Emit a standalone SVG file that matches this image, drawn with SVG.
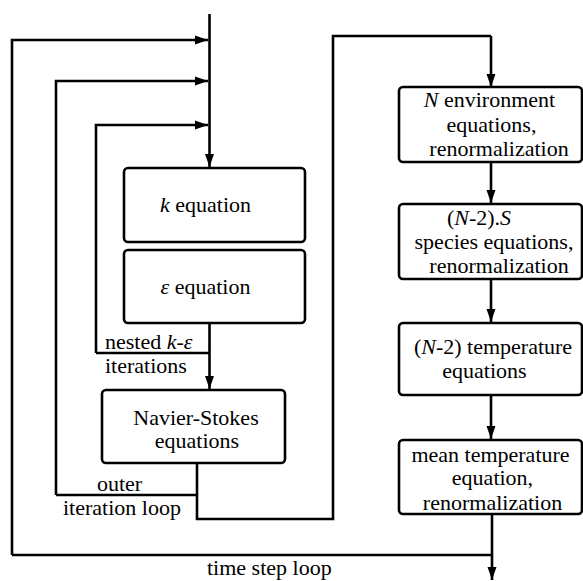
<svg xmlns="http://www.w3.org/2000/svg" width="583" height="581" viewBox="0 0 583 581" font-family="'Liberation Serif', serif" font-size="22">
<defs>
<marker id="arr" markerUnits="userSpaceOnUse" markerWidth="14" markerHeight="10" refX="13" refY="5" orient="auto">
<path d="M0,0.5 L13,5 L0,9.5 Z" fill="#000"/>
</marker>
<style>
.box{fill:#fff;stroke:#000;stroke-width:2.6}
.c{fill:none;stroke:#000;stroke-width:2.6}
.a{fill:none;stroke:#000;stroke-width:2.6;marker-end:url(#arr)}
.t{font-family:'Liberation Serif',serif;font-size:22px;fill:#000}
.m{text-anchor:middle}
.i{font-style:italic}
</style>
</defs>
<rect width="583" height="581" fill="#fff"/>
<g id="connectors">
<path class="a" d="M209.5,14 V167"/>
<path class="a" d="M12,555 V40 H208"/>
<path class="c" d="M492,555 H12"/>
<path class="a" d="M492,514 V580"/>
<path class="a" d="M56,495 V81 H208"/>
<path class="c" d="M197,495 H56"/>
<path class="c" d="M197,463 V519 H333 V36 H491"/>
<path class="a" d="M491,36 V87"/>
<path class="a" d="M96,353 V125 H208"/>
<path class="c" d="M209.5,353 H96"/>
<path class="a" d="M209.5,323 V389"/>
<path class="a" d="M491,162 V203"/>
<path class="a" d="M491,279 V322"/>
<path class="a" d="M491,395 V439"/>
</g>
<g id="k-eq">
<rect class="box" x="124" y="168" width="181" height="74" rx="4"/>
<text class="t m" x="205.5" y="212"><tspan class="i">k</tspan> equation</text>
</g>
<g id="eps-eq">
<rect class="box" x="124" y="250" width="181" height="73" rx="4"/>
<text class="t m" x="205.5" y="294"><tspan class="i">ε</tspan> equation</text>
</g>
<g id="ns-eq">
<rect class="box" x="102" y="390" width="183" height="73" rx="4"/>
<text class="t m" x="196" y="425">Navier-Stokes</text>
<text class="t m" x="197" y="448">equations</text>
</g>
<g id="env-eq">
<rect class="box" x="399" y="87" width="183" height="75" rx="4"/>
<text class="t m" x="489.5" y="107"><tspan class="i">N</tspan> environment</text>
<text class="t m" x="491.5" y="132">equations,</text>
<text class="t m" x="499" y="156">renormalization</text>
</g>
<g id="species-eq">
<rect class="box" x="399" y="204" width="183" height="75" rx="4"/>
<text class="t m" x="479" y="225">(<tspan class="i">N</tspan>-2).<tspan class="i">S</tspan></text>
<text class="t m" x="494" y="249">species equations,</text>
<text class="t m" x="499" y="273">renormalization</text>
</g>
<g id="temp-eq">
<rect class="box" x="399" y="323" width="183" height="72" rx="4"/>
<text class="t m" x="493" y="354">(<tspan class="i">N</tspan>-2) temperature</text>
<text class="t m" x="484.5" y="378">equations</text>
</g>
<g id="mean-temp-eq">
<rect class="box" x="399" y="440" width="183" height="74" rx="4"/>
<text class="t m" x="490.5" y="462">mean temperature</text>
<text class="t m" x="492.5" y="485">equation,</text>
<text class="t m" x="492.5" y="510">renormalization</text>
</g>
<g id="labels">
<text class="t" x="105" y="349">nested <tspan class="i">k</tspan>-<tspan class="i">ε</tspan></text>
<text class="t" x="105" y="373">iterations</text>
<text class="t m" x="119.5" y="491">outer</text>
<text class="t" x="63" y="515">iteration loop</text>
<text class="t" x="207" y="575">time step loop</text>
</g>
</svg>
